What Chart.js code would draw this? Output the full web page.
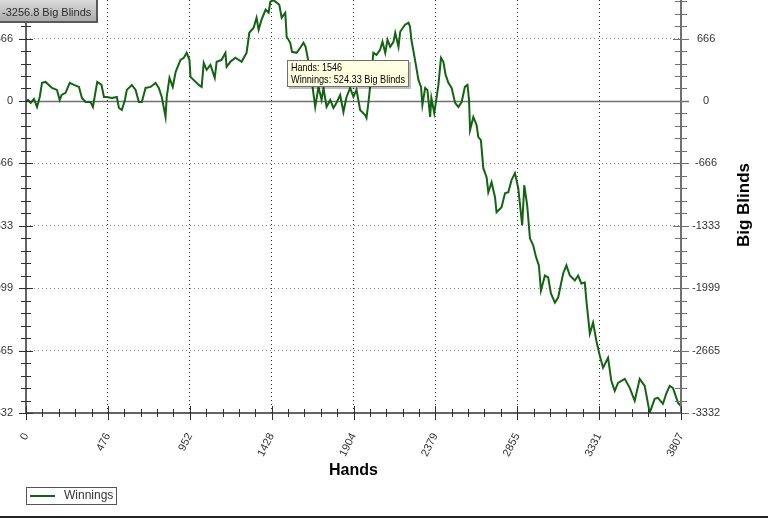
<!DOCTYPE html>
<html>
<head>
<meta charset="utf-8">
<script src="https://cdn.jsdelivr.net/npm/chart.js@4"></script>
<style>
  body { margin: 0; background: #fff; }
  canvas { display: block; }
</style>
</head>
<body>
<canvas id="myChart" width="768" height="518"></canvas>
<script>
// hands played (x) and cumulative winnings in big blinds (y)
const hands = [
  0, 12, 27, 46, 64, 80, 93, 114, 151, 180,
  196, 207, 230, 254, 279, 308, 325, 346, 375, 389,
  414, 439, 453, 470, 499, 528, 540, 557, 575, 586,
  615, 637, 656, 673, 695, 724, 753, 772, 789, 811,
  818, 834, 853, 870, 898, 917, 934, 950, 956, 1004,
  1021, 1033, 1050, 1072, 1097, 1108, 1137, 1159, 1166, 1188,
  1217, 1253, 1282, 1298, 1323, 1340, 1352, 1369, 1393, 1410,
  1420, 1439, 1457, 1472, 1486, 1507, 1515, 1536, 1546, 1573,
  1594, 1613, 1625, 1642, 1660, 1681, 1700, 1718, 1729, 1747,
  1768, 1787, 1804, 1826, 1845, 1863, 1884, 1903, 1921, 1942,
  1971, 1979, 1990, 2000, 2019, 2037, 2058, 2072, 2088, 2101,
  2117, 2136, 2146, 2165, 2175, 2203, 2223, 2232, 2240, 2261,
  2281, 2296, 2304, 2320, 2333, 2349, 2356, 2373, 2387, 2397,
  2412, 2426, 2439, 2455, 2474, 2494, 2513, 2532, 2551, 2566,
  2575, 2581, 2600, 2619, 2629, 2644, 2658, 2677, 2687, 2706,
  2726, 2735, 2764, 2784, 2803, 2822, 2842, 2861, 2884, 2896,
  2913, 2929, 2948, 2965, 2981, 2993, 3016, 3035, 3051, 3074,
  3093, 3122, 3141, 3161, 3190, 3209, 3228, 3248, 3257, 3277,
  3296, 3315, 3335, 3354, 3383, 3402, 3422, 3441, 3480, 3509,
  3538, 3567, 3596, 3625, 3654, 3673, 3702, 3721, 3741, 3760,
  3780, 3790, 3807
];
const winnings = [
  0, 11, -21, 21, -64, 43, 193, 203, 139, 118,
  11, 64, 86, 193, 171, 150, 32, -11, -11, -64,
  203, 171, 43, 43, 32, 43, -75, -96, 11, 118,
  171, 118, -11, -11, 139, 150, 193, 139, 43, -171,
  43, 246, 150, 311, 439, 461, 514, 439, 257, 171,
  150, 407, 332, 386, 246, 418, 439, 514, 364, 418,
  461, 418, 514, 728, 782, 889, 760, 868, 975, 942,
  1060, 1075, 1050, 1028, 889, 942, 685, 621, 524.33, 514,
  568, 621, 578, 418, 225, -64, 150, 11, 139, -64,
  11, -75, -21, 64, -118, 43, 139, 43, 118, -96,
  -150, -182, -21, 150, 514, 493, 546, 632, 514, 653,
  578, 632, 728, 578, 739, 814, 835, 793, 653, 439,
  225, 150, -43, 139, 118, -171, 32, -129, 43, 171,
  461, 418, 278, 193, 139, -21, -64, -11, 150, 171,
  11, -311, -171, -257, -386, -418, -718, -814, -975, -868,
  -1028, -1189, -1135, -985, -975, -846, -771, -932, -1328, -900,
  -1114, -1467, -1542, -1671, -1756, -2024, -1864, -1885, -2056, -2153,
  -2099, -1842, -1756, -1864, -1917, -1864, -1949, -1939, -2131, -2485,
  -2367, -2560, -2720, -2849, -2742, -2988, -3095, -3010, -2967, -3063,
  -3202, -2967, -3042, -3330, -3181, -3170, -3234, -3127, -3042, -3063,
  -3170, -3224, -3256.8
];
const xTicks = [0, 476, 952, 1428, 1904, 2379, 2855, 3331, 3807];
const yTicks = [666, 0, -666, -1333, -1999, -2665, -3332];
const yMin = -3332;
const yMax = 1078;
const tipHands = 1546;
const tipWinnings = 524.33;
const finalText = '-3256.8 Big Blinds';

const FONT = '"Liberation Sans", Arial, sans-serif';
const clear = 'rgba(0,0,0,0)';

const setTicks = list => scale => { scale.ticks = list.map(v => ({ value: v })); };
const noPad = s => { s.paddingTop = 0; s.paddingBottom = 0; s.paddingLeft = 0; s.paddingRight = 0; };

// squeeze a text line into a given width
const fitText = (ctx, text, x, y, w) => {
  const m = ctx.measureText(text).width;
  const k = Math.min(1, w / m);
  ctx.save();
  ctx.translate(x, y);
  ctx.scale(k, 1);
  ctx.fillText(text, 0, 0);
  ctx.restore();
};

// ticks that cross the axes (major + 4 minor per interval), zero line, boxes
const decor = {
  id: 'decor',
  beforeDatasetsDraw(chart) {
    const { ctx, chartArea: a, scales } = chart;
    const y0 = Math.round(scales.y.getPixelForValue(0)) + 0.5;
    ctx.save();
    ctx.strokeStyle = '#707070';
    ctx.lineWidth = 1.5;
    ctx.beginPath();
    ctx.moveTo(a.left, y0);
    ctx.lineTo(a.right + 8, y0);
    ctx.stroke();
    ctx.restore();
  },
  afterDatasetsDraw(chart) {
    const { ctx, chartArea: a, scales } = chart;
    const xs = scales.x, ys = scales.y;
    ctx.save();
    // axes
    ctx.strokeStyle = '#303030';
    ctx.lineWidth = 1.5;
    ctx.beginPath();
    ctx.moveTo(a.left, a.top);
    ctx.lineTo(a.left, a.bottom);
    ctx.lineTo(a.right, a.bottom);
    ctx.stroke();
    ctx.strokeStyle = '#707070';
    ctx.lineWidth = 2;
    ctx.beginPath();
    ctx.moveTo(a.right, a.top);
    ctx.lineTo(a.right, a.bottom);
    ctx.stroke();

    // y ticks
    const ySorted = yTicks.slice().sort((p, q) => p - q);
    const step = (ySorted[1] - ySorted[0]) / 5;
    const yMinor = [];
    for (let i = 0; i < ySorted.length - 1; i++) {
      const s = (ySorted[i + 1] - ySorted[i]) / 5;
      for (let k = 1; k < 5; k++) yMinor.push(ySorted[i] + s * k);
    }
    for (let v = ySorted[ySorted.length - 1] + step; v <= yMax; v += step) yMinor.push(v);
    const yTick = (v, len, side) => {
      const p = Math.round(ys.getPixelForValue(v)) + 0.5;
      ctx.moveTo(side - len, p);
      ctx.lineTo(side + len, p);
    };
    ctx.lineWidth = 1;
    ctx.strokeStyle = '#303030';
    ctx.beginPath();
    ySorted.forEach(v => yTick(v, 7, a.left));
    yMinor.forEach(v => yTick(v, 5, a.left));
    ctx.stroke();
    ctx.strokeStyle = '#707070';
    ctx.beginPath();
    ySorted.forEach(v => yTick(v, 8, a.right));
    yMinor.forEach(v => yTick(v, 6, a.right));
    ctx.stroke();

    // x ticks
    const xMinor = [];
    for (let i = 0; i < xTicks.length - 1; i++) {
      const s = (xTicks[i + 1] - xTicks[i]) / 5;
      for (let k = 1; k < 5; k++) xMinor.push(xTicks[i] + s * k);
    }
    ctx.strokeStyle = '#303030';
    ctx.beginPath();
    xTicks.forEach(v => {
      const p = Math.round(xs.getPixelForValue(v)) + 0.5;
      ctx.moveTo(p, a.bottom - 7);
      ctx.lineTo(p, a.bottom + 7);
    });
    xMinor.forEach(v => {
      const p = Math.round(xs.getPixelForValue(v)) + 0.5;
      ctx.moveTo(p, a.bottom - 4);
      ctx.lineTo(p, a.bottom + 4);
    });
    ctx.stroke();
    ctx.restore();
  },
  afterDraw(chart) {
    const { ctx, scales, width, height } = chart;
    ctx.save();

    // axis title on the right, reading upwards
    ctx.fillStyle = '#000';
    ctx.font = 'bold 17px ' + FONT;
    ctx.textAlign = 'center';
    ctx.textBaseline = 'middle';
    ctx.translate(744, 205);
    ctx.rotate(-Math.PI / 2);
    ctx.fillText('Big Blinds', 0, 0);
    ctx.setTransform(1, 0, 0, 1, 0, 0);

    // value box, top left
    const g = ctx.createLinearGradient(0, 0, 0, 22);
    g.addColorStop(0, '#dcdcdc');
    g.addColorStop(1, '#a9a9a9');
    ctx.fillStyle = '#5a5a5a';
    ctx.fillRect(0, 0, 98, 23);
    ctx.fillStyle = g;
    ctx.fillRect(0, 0, 96, 21);
    ctx.fillStyle = '#2b2b2b';
    ctx.font = '11px ' + FONT;
    ctx.textAlign = 'left';
    ctx.textBaseline = 'alphabetic';
    fitText(ctx, finalText, 2, 16, 92);

    // hover tooltip
    const tx = Math.round(scales.x.getPixelForValue(tipHands)) - 5;
    const ty = Math.round(scales.y.getPixelForValue(tipWinnings)) + 8;
    ctx.fillStyle = 'rgba(0,0,0,0.25)';
    ctx.fillRect(tx + 2, ty + 2, 122, 27);
    ctx.fillStyle = '#ffffe1';
    ctx.fillRect(tx, ty, 122, 27);
    ctx.strokeStyle = '#707070';
    ctx.lineWidth = 1;
    ctx.strokeRect(tx + 0.5, ty + 0.5, 121, 26);
    ctx.fillStyle = '#000';
    ctx.font = '11px ' + FONT;
    fitText(ctx, 'Hands: ' + tipHands, tx + 4, ty + 11, 51);
    fitText(ctx, 'Winnings: ' + tipWinnings + ' Big Blinds', tx + 4, ty + 23, 114);

    // legend
    const ds = chart.data.datasets[0];
    ctx.strokeStyle = '#555';
    ctx.strokeRect(26.5, 487.5, 90, 17);
    ctx.strokeStyle = ds.borderColor;
    ctx.lineWidth = 2;
    ctx.beginPath();
    ctx.moveTo(30, 496);
    ctx.lineTo(55, 496);
    ctx.stroke();
    ctx.fillStyle = '#333';
    ctx.font = '12px ' + FONT;
    ctx.textBaseline = 'middle';
    ctx.fillText(ds.label, 64, 496);

    // window edge at the bottom
    ctx.fillStyle = '#222';
    ctx.fillRect(0, height - 2, width, 2);
    ctx.restore();
  }
};

const ctx = document.getElementById('myChart').getContext('2d');
const myChart = new Chart(ctx, {
  type: 'line',
  data: {
    datasets: [
      {
        label: 'Winnings',
        data: hands.map((h, i) => ({ x: h, y: winnings[i] })),
        borderColor: '#136313',
        borderWidth: 2,
        pointRadius: 0,
        tension: 0,
        yAxisID: 'y'
      }
    ]
  },
  options: {
    responsive: false,
    animation: false,
    layout: { padding: 0 },
    plugins: { legend: { display: false }, tooltip: { enabled: false } },
    scales: {
      x: {
        type: 'linear',
        min: 0,
        max: 3807,
        afterBuildTicks: setTicks(xTicks),
        afterFit: s => { s.height = 105; noPad(s); },
        grid: {
          color: c => (c.tick && (c.tick.value === 0 || c.tick.value === 3807)) ? clear : '#2a2a2a',
          lineWidth: 1,
          drawTicks: false
        },
        border: { display: false, dash: [1, 3] },
        ticks: {
          autoSkip: false,
          minRotation: 63,
          maxRotation: 63,
          padding: 18,
          color: '#333',
          font: { family: FONT, size: 11 },
          callback: v => String(v)
        },
        title: {
          display: true,
          text: 'Hands',
          color: '#000',
          font: { family: FONT, size: 16, weight: 'bold' },
          padding: { top: 0, bottom: 38 }
        }
      },
      y: {
        position: 'left',
        min: yMin,
        max: yMax,
        afterBuildTicks: setTicks(yTicks),
        afterFit: s => { s.width = 26; noPad(s); },
        grid: { display: false, drawTicks: false },
        border: { display: false },
        ticks: {
          padding: 13,
          color: '#333',
          font: { family: FONT, size: 11 },
          callback: v => String(v)
        }
      },
      y2: {
        position: 'right',
        min: yMin,
        max: yMax,
        afterBuildTicks: setTicks(yTicks),
        afterFit: s => { s.width = 87; noPad(s); },
        grid: {
          color: c => (c.tick && (c.tick.value === 0 || c.tick.value === yMin)) ? clear : '#8a8a8a',
          lineWidth: 1,
          drawTicks: false
        },
        border: { display: false, dash: [1, 3] },
        ticks: {
          padding: 11,
          crossAlign: 'center',
          color: '#333',
          font: { family: FONT, size: 11 },
          callback: v => String(v)
        }
      }
    }
  },
  plugins: [decor]
});
</script>
</body>
</html>
